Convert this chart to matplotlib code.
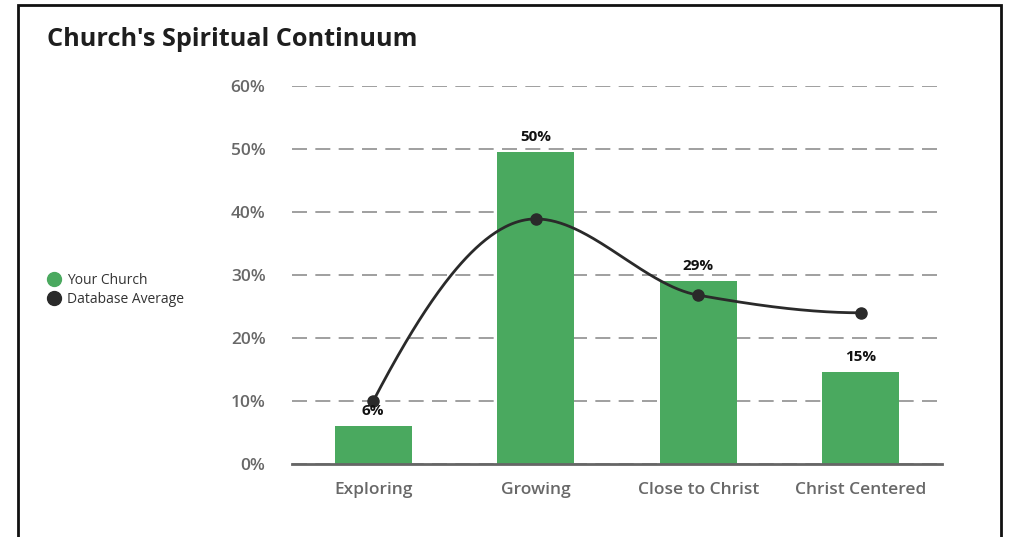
import numpy as np
import matplotlib.pyplot as plt
from matplotlib.lines import Line2D
from matplotlib.patches import Rectangle

plt.rcParams['font.family'] = ['Open Sans', 'DejaVu Sans']

# data
categories = ['Exploring', 'Growing', 'Close to Christ', 'Christ Centered']
your_church = [6.1, 49.5, 29.0, 14.6]
database_avg = [10.0, 38.9, 26.8, 24.0]
y_ticks = [0, 10, 20, 30, 40, 50, 60]

green = '#4aa95f'
dark = '#2a2a2a'


def pchip(x, y, xs):
    # monotone cubic (Fritsch-Carlson) so the curve looks like the web chart
    x = np.asarray(x, float)
    y = np.asarray(y, float)
    h = np.diff(x)
    d = np.diff(y) / h
    n = len(x)
    m = np.zeros(n)
    for k in range(1, n - 1):
        if d[k - 1] * d[k] > 0:
            w1 = 2 * h[k] + h[k - 1]
            w2 = h[k] + 2 * h[k - 1]
            m[k] = (w1 + w2) / (w1 / d[k - 1] + w2 / d[k])

    def end_slope(h0, h1, d0, d1):
        s = ((2 * h0 + h1) * d0 - h0 * d1) / (h0 + h1)
        if np.sign(s) != np.sign(d0):
            return 0.0
        if np.sign(d0) != np.sign(d1) and abs(s) > abs(3 * d0):
            return 3 * d0
        return s

    m[0] = end_slope(h[0], h[1], d[0], d[1])
    m[-1] = end_slope(h[-1], h[-2], d[-1], d[-2])
    out = np.empty_like(xs)
    for i, xv in enumerate(xs):
        k = min(np.searchsorted(x, xv, side='right') - 1, n - 2)
        t = (xv - x[k]) / h[k]
        h00 = 2 * t**3 - 3 * t**2 + 1
        h10 = t**3 - 2 * t**2 + t
        h01 = -2 * t**3 + 3 * t**2
        h11 = t**3 - t**2
        out[i] = h00 * y[k] + h10 * h[k] * m[k] + h01 * y[k + 1] + h11 * h[k] * m[k + 1]
    return out


fig = plt.figure(figsize=(10.09, 5.37), dpi=100)
ax = fig.add_axes([292 / 1009, 1 - 464 / 537, 650 / 1009, 378 / 537])

x = np.arange(len(categories))
bars = ax.bar(x, your_church, width=0.475, color=green, zorder=2)
for xi, v in zip(x, your_church):
    ax.annotate(f'{v:.0f}%', (xi, v), xytext=(0, 8), textcoords='offset pixels',
                ha='center', va='bottom', fontsize=11, fontweight='bold', color='#111111', zorder=5)

xs = np.linspace(0, len(categories) - 1, 300)
ax.plot(xs, pchip(x, database_avg, xs), color=dark, lw=2, zorder=3)
ax.plot(x, database_avg, 'o', color=dark, ms=8, zorder=4)

ax.set_xlim(-0.5, len(categories) - 0.5)
ax.set_ylim(0, 60)
ax.set_yticks(y_ticks)
ax.set_yticklabels([f'{t}%' for t in y_ticks])
ax.set_xticks(x)
ax.set_xticklabels(categories)
ax.yaxis.grid(True, color='#8f8f8f', lw=1.2, linestyle=(0, (9, 5)), zorder=1)
ax.set_axisbelow(True)
for s in ['top', 'right', 'left']:
    ax.spines[s].set_visible(False)
ax.spines['bottom'].set_color('#666666')
ax.spines['bottom'].set_linewidth(2)
ax.tick_params(axis='both', length=0, labelsize=12.5, labelcolor='#686868')
ax.tick_params(axis='y', pad=19)
ax.tick_params(axis='x', pad=13)
for lbl in ax.get_xticklabels() + ax.get_yticklabels():
    lbl.set_fontweight('semibold')

fig.text(47 / 1009, 1 - 40 / 537, "Church's Spiritual Continuum", fontsize=18.2,
         fontweight='bold', color='#1e1e1e', va='center', ha='left')

handles = [Line2D([], [], marker='o', ls='', color=green, ms=10),
           Line2D([], [], marker='o', ls='', color=dark, ms=10)]
fig.legend(handles, ['Your Church', 'Database Average'], loc='center left',
           bbox_to_anchor=(33 / 1009, 1 - 290 / 537), frameon=False, fontsize=10,
           handletextpad=0.35, labelspacing=0.25, handlelength=1.2, labelcolor='#333333')

fig.patches.append(Rectangle((18 / 1009, -0.05), 983 / 1009, 1.05 - 5 / 537,
                             transform=fig.transFigure, fill=False, lw=2, ec='#111111'))

fig.savefig('out.png', dpi=100)
